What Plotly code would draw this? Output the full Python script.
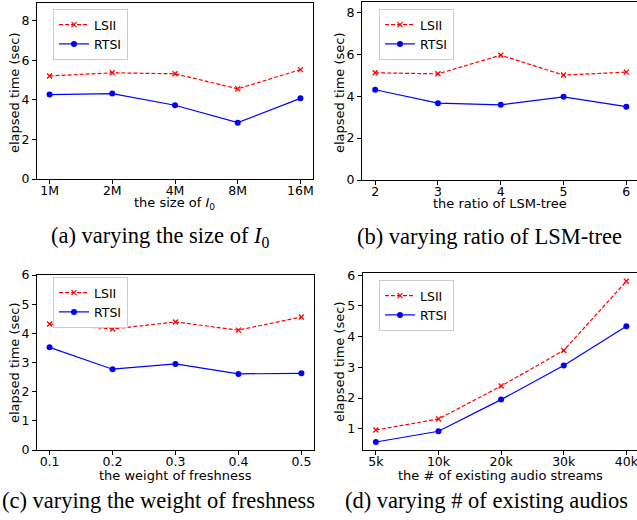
import plotly.graph_objects as go

# ---- data ----
a_x = ["1M", "2M", "4M", "8M", "16M"]
a_lsii = [5.21, 5.37, 5.32, 4.56, 5.53]
a_rtsi = [4.27, 4.32, 3.73, 2.85, 4.08]

b_x = ["2", "3", "4", "5", "6"]
b_lsii = [5.12, 5.07, 5.96, 5.01, 5.15]
b_rtsi = [4.31, 3.67, 3.59, 3.97, 3.50]

c_x = ["0.1", "0.2", "0.3", "0.4", "0.5"]
c_lsii = [4.32, 4.15, 4.39, 4.11, 4.56]
c_rtsi = [3.52, 2.77, 2.95, 2.61, 2.63]

d_x = ["5k", "10k", "20k", "30k", "40k"]
d_lsii = [0.96, 1.32, 2.39, 3.55, 5.80]
d_rtsi = [0.57, 0.92, 1.95, 3.06, 4.34]

x_titles = ["the size of <i>I</i><sub>0</sub>", "the ratio of LSM-tree",
            "the weight of freshness", "the # of existing audio streams"]
y_title = "elapsed time (sec)"
captions = ["(a) varying the size of <i>I</i><sub>0</sub>", "(b) varying ratio of LSM-tree",
            "(c) varying the weight of freshness", "(d) varying # of existing audios"]

W, H = 637, 520
RED = "#ff0000"
BLUE = "#0000ff"
FONT = "DejaVu Sans"

def px(x):
    return x / W

def py(y):
    return 1 - y / H

panels = [
    dict(x=a_x, l=a_lsii, r=a_rtsi, xd=[37, 313], yd=[3, 179], xr=[-0.2, 4.2], yr=[0, 8.9],
         dt=2, t0=0, leg=(53, 9), cap=(160, 237), xt=(174, 204), yt=(14, 93)),
    dict(x=b_x, l=b_lsii, r=b_rtsi, xd=[362, 637], yd=[2, 180], xr=[-0.21, 4.17], yr=[0, 8.5],
         dt=2, t0=0, leg=(379, 9), cap=(489, 237), xt=(500, 204), yt=(339, 93)),
    dict(x=c_x, l=c_lsii, r=c_rtsi, xd=[37, 314], yd=[275, 450], xr=[-0.2, 4.2], yr=[0, 6.0],
         dt=1, t0=0, leg=(53, 277), cap=(158, 500), xt=(175, 475), yt=(14, 363)),
    dict(x=d_x, l=d_lsii, r=d_rtsi, xd=[362.7, 637], yd=[273.3, 450], xr=[-0.21, 4.17], yr=[0.31, 6.06],
         dt=1, t0=1, leg=(379, 280), cap=(486, 500), xt=(500, 475), yt=(339, 362)),
]

fig = go.Figure()
layout = dict(width=W, height=H, margin=dict(l=0, r=0, t=0, b=0),
              paper_bgcolor="white", plot_bgcolor="white",
              font=dict(family=FONT, size=13, color="black"))
annotations = []
for i, p in enumerate(panels):
    n = "" if i == 0 else str(i + 1)
    xa = "x" + n
    ya = "y" + n
    lg = "legend" + n
    fig.add_trace(go.Scatter(x=p["x"], y=p["l"], name="LSII", xaxis=xa, yaxis=ya, legend=lg,
                             mode="lines+markers",
                             line=dict(color=RED, width=1.2, dash="4px,2px"),
                             marker=dict(symbol="x-thin", size=5, color=RED,
                                         line=dict(color=RED, width=1.3))))
    fig.add_trace(go.Scatter(x=p["x"], y=p["r"], name="RTSI", xaxis=xa, yaxis=ya, legend=lg,
                             mode="lines+markers",
                             line=dict(color=BLUE, width=1.2),
                             marker=dict(symbol="circle", size=6, color=BLUE)))
    layout["xaxis" + n] = dict(domain=[px(p["xd"][0]), px(p["xd"][1])], anchor=ya,
                               range=p["xr"], showline=True, linecolor="black", linewidth=1,
                               mirror=True, ticks="outside", ticklen=4, tickcolor="black",
                               showgrid=False, zeroline=False, tickfont=dict(size=12.5),
                               ticklabelstandoff=-4, automargin=False)
    layout["yaxis" + n] = dict(domain=[py(p["yd"][1]), py(p["yd"][0])], anchor=xa,
                               range=p["yr"], showline=True, linecolor="black", linewidth=1,
                               mirror=True, ticks="outside", ticklen=4, tickcolor="black",
                               showgrid=False, zeroline=False, tickfont=dict(size=12.5),
                               tickmode="linear", tick0=p["t0"], dtick=p["dt"],
                               automargin=False)
    layout[lg] = dict(x=px(p["leg"][0]), y=py(p["leg"][1]), xanchor="left", yanchor="top",
                      bgcolor="white", bordercolor="#cccccc", borderwidth=1,
                      font=dict(size=12.5), itemwidth=30, tracegroupgap=0)
    annotations.append(dict(text=x_titles[i], x=px(p["xt"][0]), y=py(p["xt"][1]),
                            xref="paper", yref="paper", xanchor="center", yanchor="middle",
                            showarrow=False, font=dict(size=13)))
    annotations.append(dict(text=y_title, x=px(p["yt"][0]), y=py(p["yt"][1]), textangle=-90,
                            xref="paper", yref="paper", xanchor="center", yanchor="middle",
                            showarrow=False, font=dict(size=13)))
    annotations.append(dict(text=captions[i], x=px(p["cap"][0]), y=py(p["cap"][1]),
                            xref="paper", yref="paper", xanchor="center", yanchor="middle",
                            showarrow=False,
                            font=dict(family="Liberation Serif", size=22.5, color="black")))
layout["annotations"] = annotations
fig.update_layout(**layout)
fig.write_html("out.html", config={"displayModeBar": False},
               post_script="document.body.style.margin='0';document.body.style.overflow='hidden';")
